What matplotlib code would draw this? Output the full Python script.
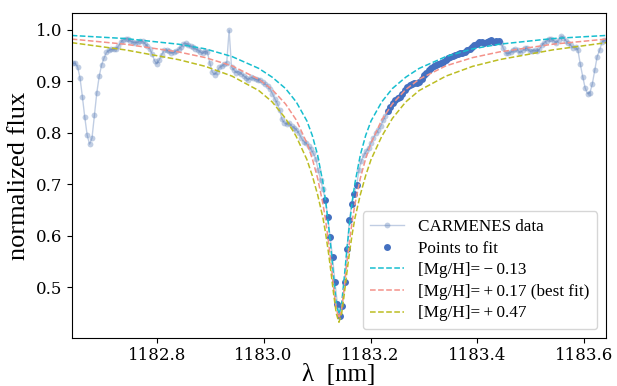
import numpy as np
import matplotlib
matplotlib.use("Agg")
import matplotlib.pyplot as plt

plt.rcParams['font.family'] = ['DejaVu Serif']
TEXT_FONT = ['Liberation Serif', 'DejaVu Serif']

# Observed spectrum around the Mg I line (wavelength in nm, normalized flux)
wavelength = [
    1182.6430, 1182.6475, 1182.6520, 1182.6565, 1182.6610, 1182.6655, 1182.6700, 1182.6745, 1182.6790, 1182.6835,
    1182.6880, 1182.6925, 1182.6970, 1182.7015, 1182.7060, 1182.7105, 1182.7150, 1182.7195, 1182.7240, 1182.7285,
    1182.7330, 1182.7375, 1182.7420, 1182.7465, 1182.7510, 1182.7555, 1182.7600, 1182.7645, 1182.7690, 1182.7735,
    1182.7780, 1182.7825, 1182.7870, 1182.7915, 1182.7960, 1182.8005, 1182.8050, 1182.8095, 1182.8140, 1182.8185,
    1182.8230, 1182.8275, 1182.8320, 1182.8365, 1182.8410, 1182.8455, 1182.8500, 1182.8545, 1182.8590, 1182.8635,
    1182.8680, 1182.8725, 1182.8770, 1182.8815, 1182.8860, 1182.8905, 1182.8950, 1182.8995, 1182.9040, 1182.9085,
    1182.9130, 1182.9175, 1182.9220, 1182.9265, 1182.9310, 1182.9355, 1182.9400, 1182.9445, 1182.9490, 1182.9535,
    1182.9580, 1182.9625, 1182.9670, 1182.9715, 1182.9760, 1182.9805, 1182.9850, 1182.9895, 1182.9940, 1182.9985,
    1183.0030, 1183.0075, 1183.0120, 1183.0165, 1183.0210, 1183.0255, 1183.0300, 1183.0345, 1183.0390, 1183.0435,
    1183.0480, 1183.0525, 1183.0570, 1183.0615, 1183.0660, 1183.0705, 1183.0750, 1183.0795, 1183.0840, 1183.0885,
    1183.0930, 1183.0975, 1183.1020, 1183.1065, 1183.1110, 1183.1155, 1183.1200, 1183.1245, 1183.1290, 1183.1335,
    1183.1380, 1183.1425, 1183.1470, 1183.1515, 1183.1560, 1183.1605, 1183.1650, 1183.1695, 1183.1740, 1183.1785,
    1183.1830, 1183.1875, 1183.1920, 1183.1965, 1183.2010, 1183.2055, 1183.2100, 1183.2145, 1183.2190, 1183.2235,
    1183.2280, 1183.2325, 1183.2370, 1183.2415, 1183.2460, 1183.2505, 1183.2550, 1183.2595, 1183.2640, 1183.2685,
    1183.2730, 1183.2775, 1183.2820, 1183.2865, 1183.2910, 1183.2955, 1183.3000, 1183.3045, 1183.3090, 1183.3135,
    1183.3180, 1183.3225, 1183.3270, 1183.3315, 1183.3360, 1183.3405, 1183.3450, 1183.3495, 1183.3540, 1183.3585,
    1183.3630, 1183.3675, 1183.3720, 1183.3765, 1183.3810, 1183.3855, 1183.3900, 1183.3945, 1183.3990, 1183.4035,
    1183.4080, 1183.4125, 1183.4170, 1183.4215, 1183.4260, 1183.4305, 1183.4350, 1183.4395, 1183.4440, 1183.4485,
    1183.4530, 1183.4575, 1183.4620, 1183.4665, 1183.4710, 1183.4755, 1183.4800, 1183.4845, 1183.4890, 1183.4935,
    1183.4980, 1183.5025, 1183.5070, 1183.5115, 1183.5160, 1183.5205, 1183.5250, 1183.5295, 1183.5340, 1183.5385,
    1183.5430, 1183.5475, 1183.5520, 1183.5565, 1183.5610, 1183.5655, 1183.5700, 1183.5745, 1183.5790, 1183.5835,
    1183.5880, 1183.5925, 1183.5970, 1183.6015, 1183.6060, 1183.6105, 1183.6150, 1183.6195, 1183.6240, 1183.6285,
    1183.6330, 1183.6375, 1183.6420,
]

flux = [
    0.935, 0.935, 0.928, 0.907, 0.870, 0.830, 0.795, 0.778, 0.790, 0.835,
    0.878, 0.910, 0.932, 0.945, 0.956, 0.960, 0.962, 0.962, 0.963, 0.968,
    0.976, 0.981, 0.983, 0.982, 0.978, 0.976, 0.975, 0.976, 0.979, 0.978,
    0.973, 0.968, 0.963, 0.953, 0.940, 0.934, 0.942, 0.952, 0.960, 0.961,
    0.958, 0.955, 0.956, 0.959, 0.962, 0.967, 0.973, 0.974, 0.971, 0.968,
    0.966, 0.963, 0.961, 0.957, 0.954, 0.959, 0.956, 0.935, 0.918, 0.913,
    0.919, 0.927, 0.930, 0.933, 0.936, 0.999, 0.928, 0.922, 0.917, 0.919,
    0.915, 0.911, 0.907, 0.903, 0.908, 0.906, 0.904, 0.903, 0.902, 0.898,
    0.894, 0.891, 0.885, 0.876, 0.866, 0.857, 0.845, 0.826, 0.819, 0.817,
    0.819, 0.813, 0.810, 0.806, 0.799, 0.790, 0.783, 0.780, 0.774, 0.768,
    0.760, 0.750, 0.728, 0.709, 0.690, 0.670, 0.637, 0.598, 0.558, 0.510,
    0.468, 0.445, 0.464, 0.511, 0.575, 0.630, 0.662, 0.682, 0.698, 0.728,
    0.746, 0.756, 0.764, 0.771, 0.781, 0.790, 0.799, 0.806, 0.813, 0.824,
    0.833, 0.842, 0.850, 0.858, 0.864, 0.868, 0.870, 0.876, 0.883, 0.889,
    0.893, 0.895, 0.896, 0.897, 0.899, 0.905, 0.912, 0.917, 0.921, 0.926,
    0.930, 0.932, 0.934, 0.935, 0.938, 0.942, 0.946, 0.948, 0.950, 0.952,
    0.953, 0.954, 0.955, 0.957, 0.960, 0.962, 0.966, 0.970, 0.973, 0.976,
    0.976, 0.974, 0.976, 0.979, 0.980, 0.977, 0.978, 0.979, 0.975, 0.964,
    0.955, 0.954, 0.956, 0.960, 0.962, 0.961, 0.955, 0.960, 0.964, 0.964,
    0.958, 0.959, 0.961, 0.958, 0.962, 0.970, 0.975, 0.979, 0.983, 0.982,
    0.979, 0.975, 0.980, 0.988, 0.984, 0.979, 0.974, 0.970, 0.965, 0.967,
    0.960, 0.933, 0.909, 0.887, 0.876, 0.878, 0.895, 0.922, 0.948, 0.960,
    0.976, 0.980, 0.981,
]

# Wavelength windows used in the fit
fit_windows = [(1183.113, 1183.176), (1183.230, 1183.441)]

# Synthetic profiles for three Mg abundances
model_wl = [
    1182.641, 1182.741, 1182.841, 1182.891, 1182.941, 1182.991, 1183.016, 1183.041,
    1183.061, 1183.081, 1183.091, 1183.101, 1183.111, 1183.116, 1183.121, 1183.126,
    1183.131, 1183.136, 1183.141, 1183.146, 1183.151, 1183.156, 1183.161, 1183.166,
    1183.171, 1183.181, 1183.191, 1183.201, 1183.221, 1183.241, 1183.266, 1183.291,
    1183.341, 1183.391, 1183.441, 1183.541, 1183.641,
]
model_m013 = [
    0.989, 0.983, 0.972, 0.963, 0.948, 0.925, 0.908, 0.886,
    0.860, 0.823, 0.795, 0.757, 0.703, 0.668, 0.625, 0.575,
    0.520, 0.468, 0.447, 0.468, 0.520, 0.575, 0.625, 0.668,
    0.703, 0.757, 0.795, 0.823, 0.860, 0.886, 0.908, 0.925,
    0.948, 0.963, 0.972, 0.983, 0.989,
]
model_p017 = [
    0.982, 0.972, 0.957, 0.946, 0.930, 0.904, 0.884, 0.856,
    0.825, 0.780, 0.750, 0.712, 0.662, 0.630, 0.592, 0.548,
    0.500, 0.458, 0.440, 0.458, 0.500, 0.548, 0.592, 0.630,
    0.662, 0.712, 0.750, 0.780, 0.825, 0.856, 0.884, 0.904,
    0.930, 0.946, 0.957, 0.972, 0.982,
]
model_p047 = [
    0.975, 0.961, 0.942, 0.929, 0.910, 0.882, 0.860, 0.828,
    0.793, 0.748, 0.717, 0.680, 0.635, 0.605, 0.570, 0.530,
    0.487, 0.449, 0.432, 0.449, 0.487, 0.530, 0.570, 0.605,
    0.635, 0.680, 0.717, 0.748, 0.793, 0.828, 0.860, 0.882,
    0.910, 0.929, 0.942, 0.961, 0.975,
]
model_labels = ['[Mg/H]=\u2009\u2212\u20090.13',
                '[Mg/H]=\u2009+\u20090.17 (best fit)',
                '[Mg/H]=\u2009+\u20090.47']
model_colors = ['#17becf', '#f4928a', '#bcbd22']

wl = np.array(wavelength)
fl = np.array(flux)
mask = np.zeros(wl.size, dtype=bool)
for lo, hi in fit_windows:
    mask |= (wl >= lo) & (wl <= hi)

fig = plt.figure(figsize=(6.17, 3.86), dpi=100)
ax = fig.add_axes([0.1162, 0.1251, 0.8655, 0.8404])

ax.plot(wl, fl, '-o', color='#4C72B0', alpha=0.35, lw=1.0, ms=4.2,
        mec='none', label='CARMENES data')
ax.plot(wl[mask], fl[mask], 'o', color='#4470C0', ms=5.0, mec='none',
        label='Points to fit')
for ys, lab, col in zip([model_m013, model_p017, model_p047], model_labels, model_colors):
    ax.plot(model_wl, ys, '--', color=col, lw=1.1, label=lab)

ax.set_xlim(1182.641, 1183.640)
ax.set_ylim(0.402, 1.032)
ax.set_xticks([1182.8, 1183.0, 1183.2, 1183.4, 1183.6])
ax.set_yticks([0.5, 0.6, 0.7, 0.8, 0.9, 1.0])
ax.tick_params(labelsize=12)
ax.set_xlabel('\u03bb  [nm]', fontsize=18, family=TEXT_FONT, labelpad=0)
ax.set_ylabel('normalized flux', fontsize=19, family=TEXT_FONT, labelpad=4)

ax.legend(loc='lower right', prop={'family': TEXT_FONT, 'size': 12.3},
          handlelength=2.0, borderaxespad=0.5, labelspacing=0.33,
          borderpad=0.45)

fig.savefig('out.png', dpi=100)
